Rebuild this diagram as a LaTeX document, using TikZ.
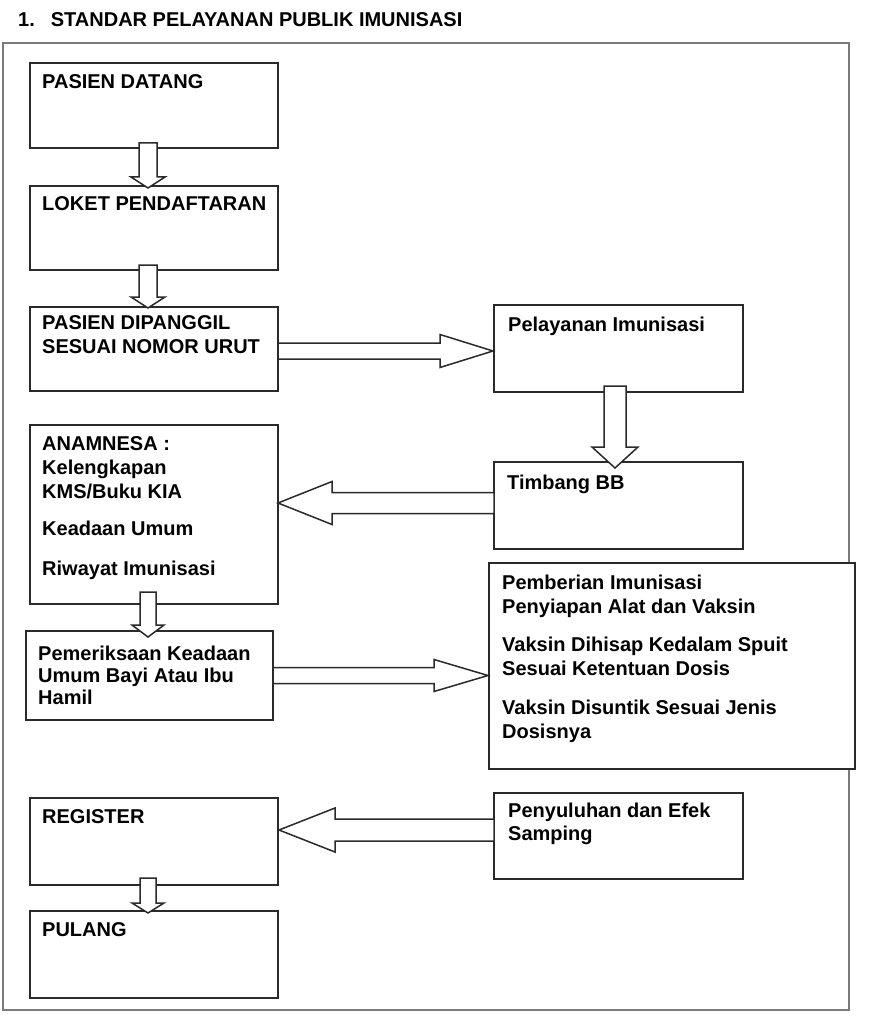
\documentclass[tikz,border=0pt]{standalone}
\usepackage{fontspec}
\setmainfont{Liberation Sans}
\usetikzlibrary{calc}

\definecolor{garis}{HTML}{2A2A2A}
\definecolor{bingkai}{HTML}{7A7A7A}

% block arrow: start, tip, shaft half width, head half width, head length
\newcommand{\blockarrow}[5]{%
  \coordinate (hb) at ($(#2)!#5!(#1)$);
  \draw[panah] ($(#1)!#3!90:(#2)$) -- ($(hb)!#3!-90:(#1)$) -- ($(hb)!#4!-90:(#1)$) -- (#2)
    -- ($(hb)!#4!90:(#1)$) -- ($(hb)!#3!90:(#1)$) -- ($(#1)!#3!-90:(#2)$) -- cycle;}

\tikzset{
  kotak/.style={draw=garis, line width=1.5pt, fill=white, anchor=north west,
    inner sep=0pt, outer sep=0pt},
  teks/.style={anchor=north west, inner sep=0pt, align=left,
    font=\fontsize{20}{24}\selectfont\bfseries},
  panah/.style={draw=garis, line width=1.5pt, fill=white, line join=miter},
}

\begin{document}
\begin{tikzpicture}[x=1pt, y=-1pt]
  \useasboundingbox (0,0) rectangle (880,1024);
  \node[teks, anchor=base west] (judul) at (18,27) {1.\hspace{16pt}STANDAR PELAYANAN PUBLIK IMUNISASI};
  \draw[bingkai, line width=1.5pt] (3,43) rectangle (849,1010);

  % left column
  \node[kotak, minimum width=248pt, minimum height=85pt] (datang) at (30,63) {};
  \node[kotak, minimum width=248pt, minimum height=84pt] (loket) at (30,186) {};
  \node[kotak, minimum width=248pt, minimum height=84pt] (panggil) at (30,307) {};
  \node[kotak, minimum width=248pt, minimum height=179pt] (anamnesa) at (30,425) {};
  \node[kotak, minimum width=247pt, minimum height=89pt] (periksa) at (26,631) {};
  \node[kotak, minimum width=248pt, minimum height=87pt] (register) at (30,798) {};
  \node[kotak, minimum width=248pt, minimum height=87pt] (pulang) at (30,911) {};
  % right column
  \node[kotak, minimum width=249pt, minimum height=87pt] (pelayanan) at (494,305) {};
  \node[kotak, minimum width=249pt, minimum height=87pt] (timbang) at (494,462) {};
  \node[kotak, minimum width=366pt, minimum height=206pt] (pemberian) at (489,563) {};
  \node[kotak, minimum width=249pt, minimum height=86pt] (penyuluhan) at (494,793) {};

  % texts
  \node[teks] (datangtxt) at ([shift={(12,11)}]datang.north west) {PASIEN DATANG};
  \node[teks] (lokettxt) at ([shift={(12,10)}]loket.north west) {LOKET PENDAFTARAN};
  \node[teks] (panggiltxt) at ([shift={(12,8)}]panggil.north west) {PASIEN DIPANGGIL\\SESUAI NOMOR URUT};
  \node[teks] (anamnesatxt) at ([shift={(12,11)}]anamnesa.north west)
    {ANAMNESA :\\Kelengkapan\\KMS/Buku KIA\\[13pt]Keadaan Umum\\[16pt]Riwayat Imunisasi};
  \node[teks] (periksatxt) at ([shift={(12,15)}]periksa.north west)
    {Pemeriksaan Keadaan\\[-2pt]Umum Bayi Atau Ibu\\[-2pt]Hamil};
  \node[teks] (registertxt) at ([shift={(12,11)}]register.north west) {REGISTER};
  \node[teks] (pulangtxt) at ([shift={(12,11)}]pulang.north west) {PULANG};
  \node[teks] (pelayanantxt) at ([shift={(14,12)}]pelayanan.north west) {Pelayanan Imunisasi};
  \node[teks] (timbangtxt) at ([shift={(13,13)}]timbang.north west) {Timbang BB};
  \node[teks] (pemberiantxt) at ([shift={(13,12)}]pemberian.north west)
    {Pemberian Imunisasi\\Penyiapan Alat dan Vaksin\\[14pt]Vaksin Dihisap Kedalam Spuit\\Sesuai Ketentuan Dosis\\[15pt]Vaksin Disuntik Sesuai Jenis\\Dosisnya};
  \node[teks] (penyuluhantxt) at ([shift={(14,10)}]penyuluhan.north west) {Penyuluhan dan Efek\\[-1pt]Samping};

  % arrows
  \coordinate (s1) at ($(datang.south)+(-6,-5)$);
  \coordinate (t1) at ($(loket.north)+(-6,2)$);
  \blockarrow{s1}{t1}{9pt}{17pt}{11pt}
  \coordinate (s2) at ($(loket.south)+(-6,-5)$);
  \coordinate (t2) at ($(panggil.north)+(-6,1)$);
  \blockarrow{s2}{t2}{9pt}{17pt}{11pt}
  \coordinate (s3) at ($(anamnesa.south)+(-6,-12)$);
  \coordinate (t3) at ($(periksa.north)+(-1.5,6)$);
  \blockarrow{s3}{t3}{8pt}{16pt}{12pt}
  \coordinate (s4) at ($(register.south)+(-6,-7)$);
  \coordinate (t4) at ($(pulang.north)+(-6,2)$);
  \blockarrow{s4}{t4}{8pt}{16pt}{10pt}
  \coordinate (s5) at ($(pelayanan.south)+(-3.5,-6)$);
  \coordinate (t5) at ($(timbang.north)+(-3.5,6)$);
  \blockarrow{s5}{t5}{11pt}{23pt}{21pt}
  \coordinate (s6) at ($(panggil.east)+(0,2)$);
  \coordinate (t6) at ($(pelayanan.west)+(-1,2.5)$);
  \blockarrow{s6}{t6}{8pt}{16.5pt}{53pt}
  \coordinate (s7) at ($(timbang.west)+(0,-2.5)$);
  \coordinate (t7) at ($(anamnesa.east)+(0,-11.5)$);
  \blockarrow{s7}{t7}{10.5pt}{21.5pt}{54pt}
  \coordinate (s8) at ($(periksa.east)+(0,0)$);
  \coordinate (t8) at ($(pemberian.west)+(-1,9.5)$);
  \blockarrow{s8}{t8}{8pt}{16pt}{54pt}
  \coordinate (s9) at ($(penyuluhan.west)+(0,-6)$);
  \coordinate (t9) at ($(register.east)+(1,-11.5)$);
  \blockarrow{s9}{t9}{11pt}{22pt}{56pt}
\end{tikzpicture}
\end{document}
